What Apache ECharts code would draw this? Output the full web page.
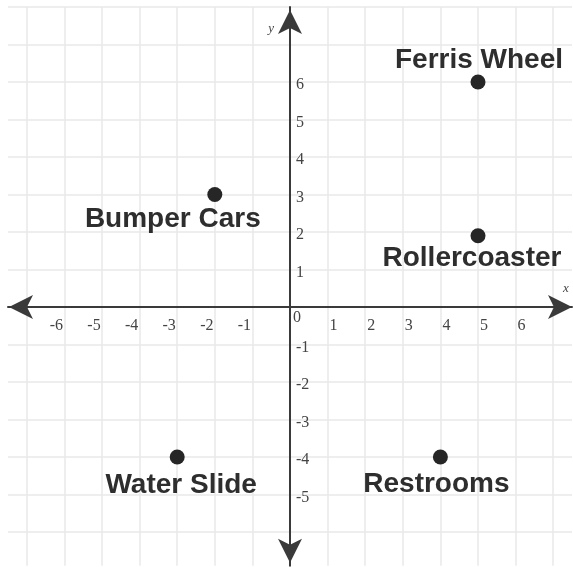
<!DOCTYPE html>
<html><head><meta charset="utf-8">
<script src="https://cdn.jsdelivr.net/npm/echarts@6/dist/echarts.min.js"></script>
<style>html,body{margin:0;padding:0;background:#fff}#c{width:573px;height:567px}</style>
</head><body><div id="c"></div>
<script>
// ---- data ----
const places = ['Ferris Wheel', 'Rollercoaster', 'Bumper Cars', 'Water Slide', 'Restrooms'];
const xValues = [5, 5, -2, -3, 4];
const yValues = [6, 1.9, 3, -4, -4];
const xTickLabels = [-6, -5, -4, -3, -2, -1, 0, 1, 2, 3, 4, 5, 6];
const yTickLabels = [-5, -4, -3, -2, -1, 1, 2, 3, 4, 5, 6];

// ---- layout / styles ----
const labelOffsets = [[1, -22], [-6, 23], [-42, 25], [4, 28], [-4, 27]];
const X_MIN = -7.5, X_MAX = 7.5, Y_MIN = -6.9, Y_MAX = 8;
const G = {left: 8, top: 7, width: 564, height: 558.75};
// distance from grid edges to the zero lines (axes cross at origin)
const xAxisOffset = -(G.height * (0 - Y_MIN) / (Y_MAX - Y_MIN));
const yAxisOffset = -(G.width * (0 - X_MIN) / (X_MAX - X_MIN));

const chart = echarts.init(document.getElementById('c'), null, {renderer: 'canvas'});
const serif = 'Liberation Serif';
const data = places.map((p, i) => ({
  name: p,
  value: [xValues[i], yValues[i]],
  label: {offset: labelOffsets[i]}
}));

chart.setOption({
  backgroundColor: '#ffffff',
  animation: false,
  grid: Object.assign({outerBoundsMode: 'none', containLabel: false}, G),
  xAxis: {
    type: 'value', min: X_MIN, max: X_MAX, minInterval: 1, maxInterval: 1, splitNumber: 15,
    position: 'bottom', offset: xAxisOffset,
    name: 'x', nameLocation: 'end', nameGap: -9,
    nameTextStyle: {fontFamily: serif, fontStyle: 'italic', fontSize: 13, color: '#444', verticalAlign: 'bottom', padding: [0, 0, 12, 0]},
    axisLine: {onZero: false, lineStyle: {color: '#3a3a3a', width: 2}, symbol: ['arrow', 'arrow'], symbolSize: [18, 24], symbolOffset: [1, 0]},
    axisTick: {show: false},
    splitLine: {showMinLine: false, showMaxLine: false, lineStyle: {color: '#e9e9e9', width: 1.5}},
    axisLabel: {
      margin: 2,
      formatter: v => {
        if (!xTickLabels.includes(v)) return '';
        if (v === 0) return '{z|0}';
        return v < 0 ? '{n|' + v + '}' : '{p|' + v + '}';
      },
      rich: {
        n: {fontFamily: serif, fontSize: 16, color: '#444', padding: [9, 16, 0, 0]},
        p: {fontFamily: serif, fontSize: 16, color: '#444', padding: [9, 0, 0, 12]},
        z: {fontFamily: serif, fontSize: 16, color: '#444', padding: [1, 0, 0, 14]}
      }
    }
  },
  yAxis: {
    type: 'value', min: Y_MIN, max: Y_MAX, minInterval: 1, maxInterval: 1, splitNumber: 15,
    position: 'left', offset: yAxisOffset,
    name: 'y', nameLocation: 'end', nameGap: -28,
    nameTextStyle: {fontFamily: serif, fontStyle: 'italic', fontSize: 13, color: '#444', align: 'right', verticalAlign: 'bottom', padding: [0, 16, 0, 0]},
    axisLine: {onZero: false, lineStyle: {color: '#3a3a3a', width: 2}, symbol: ['arrow', 'arrow'], symbolSize: [18, 24], symbolOffset: [3, -3]},
    axisTick: {show: false},
    splitLine: {showMinLine: false, lineStyle: {color: '#e9e9e9', width: 1.5}},
    axisLabel: {
      inside: true, margin: 6,
      formatter: v => yTickLabels.includes(v) ? '{a|' + v + '}' : '',
      rich: {a: {fontFamily: serif, fontSize: 16, color: '#444', padding: [6, 0, 0, 0]}}
    }
  },
  series: [{
    type: 'scatter',
    symbolSize: 15,
    itemStyle: {color: '#262626', opacity: 1},
    label: {
      show: true, position: 'inside', formatter: '{b}',
      fontFamily: 'Liberation Sans', fontWeight: 'bold', fontSize: 28, color: '#2e2e2e', opacity: 1
    },
    data: data
  }]
});
</script>
</body></html>
